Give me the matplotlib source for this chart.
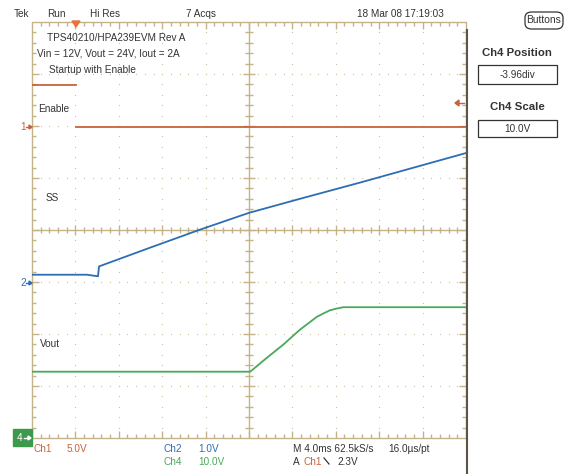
import matplotlib
matplotlib.use("Agg")
import matplotlib.pyplot as plt
from matplotlib.patches import FancyBboxPatch, Rectangle, Polygon
import numpy as np

W, H = 565, 474
# ---- data (time in ms relative to trigger, values in volts) ----
en_t = [-4.0, 0.05]
en_v = [4.0, 4.0]
en_t2 = [0.05, 36.0]
en_v2 = [0.0, 0.0]

ss_t = [-4.0, 1.07, 2.08, 2.18, 6.88, 11.39, 16.0, 20.7, 26.2, 31.7, 36.0]
ss_v = [0.15, 0.15, 0.12, 0.31, 0.67, 1.01, 1.34, 1.61, 1.92, 2.24, 2.49]

vo_t = [-4.0, 16.1, 16.25, 17.63, 19.16, 20.70, 22.24, 23.0, 23.47, 24.1, 24.69, 36.0]
vo_v = [12.35, 12.35, 12.6, 15.0, 17.56, 20.44, 22.88, 23.7, 24.17, 24.5, 24.75, 24.75]

# channel settings: (volts/div, ground position in divisions)
ch1_scale, ch1_pos = 5.0, 1.98
ch2_scale, ch2_pos = 1.0, -1.01
ch4_scale, ch4_pos = 10.0, -3.96

C1 = "#c8623c"
C2 = "#2e6db4"
C4 = "#4aa85a"
GRAT = "#c4b389"
DOT = "#cfc19c"
TXT = "#333333"
FS = 7.2

plt.rcParams['font.family'] = ['Liberation Sans Narrow', 'Liberation Sans', 'DejaVu Sans']

fig = plt.figure(figsize=(W / 100, H / 100), dpi=100)
fig.patch.set_facecolor("white")

def fx(x):
    return x / W

def fy(y):
    return 1 - y / H

L, R, T, B = 32, 466, 22, 438
ax = fig.add_axes([fx(L), fy(B), (R - L) / W, (B - T) / H])
ax.set_xlim(-4, 36)
ax.set_ylim(-4, 4)
ax.axis("off")

# ---- graticule ----
gk = dict(color=GRAT, lw=1.0, solid_capstyle="butt", zorder=1)
ax.plot([-4, 36, 36, -4, -4], [-4, -4, 4, 4, -4], clip_on=False, **gk)
ax.plot([16, 16], [-4, 4], **gk)
ax.plot([-4, 36], [0, 0], **gk)
# dotted grid
for k in range(1, 10):
    if k == 5:
        continue
    xx = -4 + 4 * k
    ys = np.arange(-3.8, 3.81, 0.2)
    ax.plot(np.full_like(ys, xx), ys, ls="none", marker="s", ms=0.8, mew=0, color=DOT, zorder=1)
for j in range(1, 8):
    if j == 4:
        continue
    yy = -4 + j
    xs = np.arange(-3.2, 35.21, 0.8)
    ax.plot(xs, np.full_like(xs, yy), ls="none", marker="s", ms=0.8, mew=0, color=DOT, zorder=1)
# ticks: px -> data
dx = 40 / (R - L)
dy = 8 / (B - T)
for i in range(1, 50):
    xx = -4 + 0.8 * i
    major = (i % 5 == 0)
    lt = (7 if major else 4)
    ax.plot([xx, xx], [4, 4 - lt * dy], **gk)
    ax.plot([xx, xx], [-4, -4 + lt * dy], **gk)
    ct = 5 if major else 3
    ax.plot([xx, xx], [-ct * dy, ct * dy], **gk)
for i in range(1, 40):
    yy = -4 + 0.2 * i
    major = (i % 5 == 0)
    lt = (7 if major else 4)
    ax.plot([-4, -4 + lt * dx], [yy, yy], **gk)
    ax.plot([36, 36 - lt * dx], [yy, yy], **gk)
    ct = 6 if major else 4
    ax.plot([16 - ct * dx, 16 + ct * dx], [yy, yy], **gk)

# ---- traces ----
def todiv(v, scale, pos):
    return np.asarray(v) / scale + pos

ax.plot(en_t, todiv(en_v, ch1_scale, ch1_pos), color=C1, lw=1.3, zorder=3)
ax.plot(en_t2, todiv(en_v2, ch1_scale, ch1_pos), color=C1, lw=1.3, zorder=3)
ax.plot(ss_t, todiv(ss_v, ch2_scale, ch2_pos), color=C2, lw=1.3, zorder=3)
ax.plot(vo_t, todiv(vo_v, ch4_scale, ch4_pos), color=C4, lw=1.3, zorder=3)

# ---- texts ----
def t(x, y, s, color=TXT, size=FS, ha="left", weight="normal", **kw):
    fig.text(fx(x), fy(y), s, color=color, fontsize=size, ha=ha, va="center",
             fontweight=weight, **kw)

t(14, 14, "Tek")
t(47, 14, "Run")
t(90, 14, "Hi Res")
t(186, 14, "7 Acqs")
t(357, 14, "18 Mar 08 17:19:03")

t(47, 38, "TPS40210/HPA239EVM Rev A")
t(37, 54, "Vin = 12V, Vout = 24V, Iout = 2A")
t(49, 70, "Startup with Enable")
t(38, 109, "Enable")
t(46, 198, "SS")
t(40, 344, "Vout")

# bottom status
t(33, 449, "Ch1", color=C1)
t(67, 449, "5.0V", color=C1)
t(163, 449, "Ch2", color=C2)
t(198, 449, "1.0V", color=C2)
t(163, 462, "Ch4", color=C4)
t(198, 462, "10.0V", color=C4)
t(293, 449, "M 4.0ms 62.5kS/s")
t(388, 449, "16.0\u00b5s/pt")
t(293, 462, "A")
t(303, 462, "Ch1", color=C1)
fig.add_artist(plt.Line2D([fx(324), fx(329)], [fy(458), fy(464)], transform=fig.transFigure,
                          color=TXT, lw=0.9))
t(337, 462, "2.3V")

# right panel
t(544, 20, "Buttons", ha="center", size=7.4)
fig.patches.append(FancyBboxPatch((fx(525), fy(29)), fx(38), 17 / H,
                                  boxstyle="round,pad=0,rounding_size=0.012",
                                  transform=fig.transFigure, fill=False,
                                  ec="#333333", lw=0.9))
t(517, 53, "Ch4 Position", weight="bold", ha="center", size=8.2, family=["Liberation Sans", "DejaVu Sans"])
fig.patches.append(Rectangle((fx(478), fy(84)), fx(79), 19 / H, transform=fig.transFigure,
                             fill=False, ec="#333333", lw=0.9))
t(517, 75, "-3.96div", ha="center")
t(517, 107, "Ch4 Scale", weight="bold", ha="center", size=8.2, family=["Liberation Sans", "DejaVu Sans"])
fig.patches.append(Rectangle((fx(478), fy(137)), fx(79), 17 / H, transform=fig.transFigure,
                             fill=False, ec="#333333", lw=0.9))
t(517, 128.5, "10.0V", ha="center")

# separator line
fig.add_artist(plt.Line2D([fx(467), fx(467)], [fy(30), fy(474)], transform=fig.transFigure,
                          color="#5b5548", lw=1.5))

# channel markers
t(20, 127, "1", color=C1)
fig.add_artist(plt.Line2D([fx(26), fx(31)], [fy(127), fy(127)], transform=fig.transFigure, color=C1, lw=1))
fig.patches.append(Polygon([(fx(32), fy(127)), (fx(29), fy(125)), (fx(29), fy(129))],
                           transform=fig.transFigure, color=C1))
t(20, 283, "2", color=C2)
fig.add_artist(plt.Line2D([fx(26), fx(31)], [fy(283), fy(283)], transform=fig.transFigure, color=C2, lw=1))
fig.patches.append(Polygon([(fx(32), fy(283)), (fx(29), fy(281)), (fx(29), fy(285))],
                           transform=fig.transFigure, color=C2))
fig.patches.append(Rectangle((fx(13), fy(446)), fx(19), 17 / H, transform=fig.transFigure,
                             color="#3c9a4c"))
t(17, 438, "4", color="white")
fig.add_artist(plt.Line2D([fx(24), fx(29)], [fy(438), fy(438)], transform=fig.transFigure, color="white", lw=1))
fig.patches.append(Polygon([(fx(31), fy(438)), (fx(28), fy(436)), (fx(28), fy(440))],
                           transform=fig.transFigure, color="white"))
# trigger level arrow (right)
fig.add_artist(plt.Line2D([fx(457), fx(464)], [fy(103), fy(103)], transform=fig.transFigure, color=C1, lw=1))
fig.patches.append(Polygon([(fx(455), fy(103)), (fx(459), fy(100)), (fx(459), fy(106))],
                           transform=fig.transFigure, color=C1))
# trigger position marker (top)
fig.patches.append(Polygon([(fx(72), fy(21)), (fx(80), fy(21)), (fx(76), fy(27))],
                           transform=fig.transFigure, color="#e8743a"))

fig.savefig("out.png", dpi=100)
